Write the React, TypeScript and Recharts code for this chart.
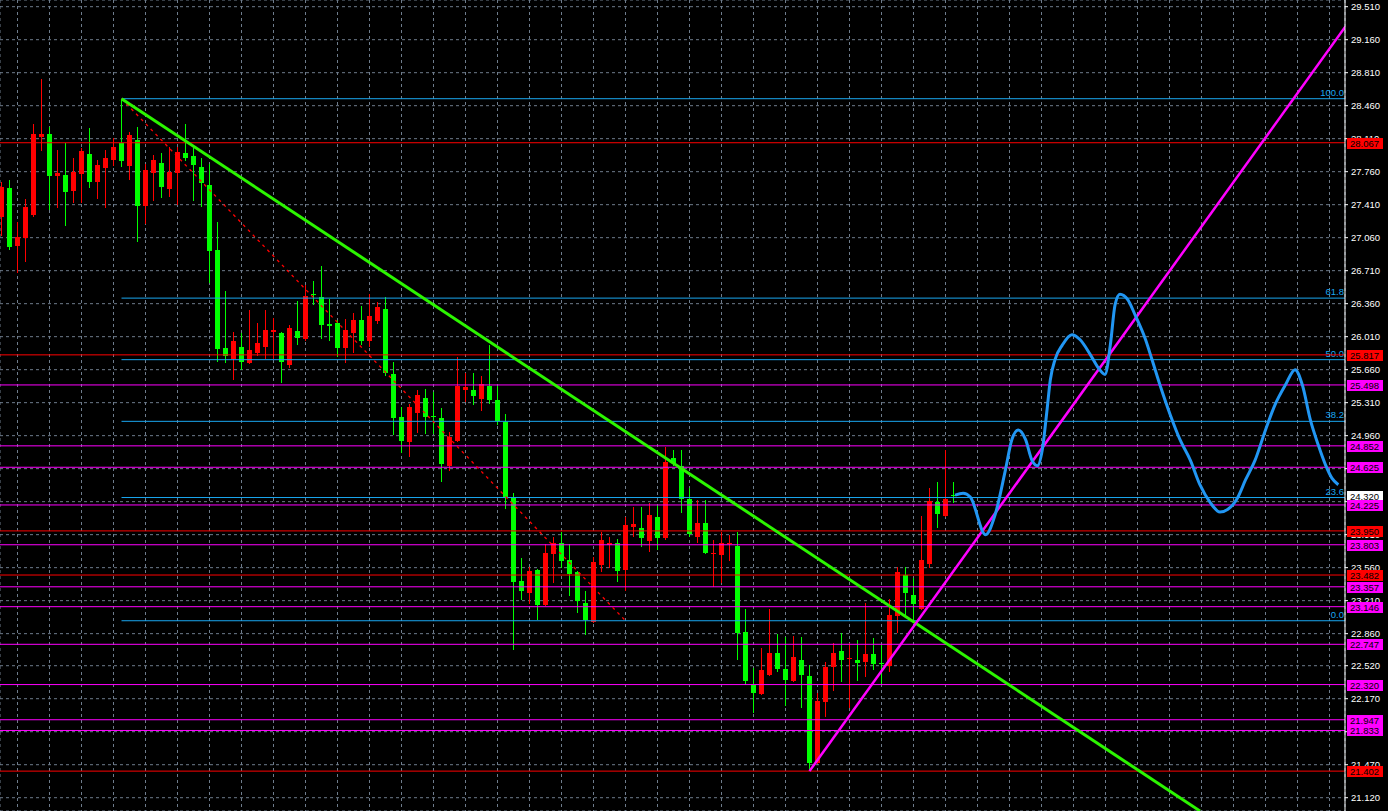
import { Bar, CartesianGrid, ComposedChart, Line, ReferenceLine, XAxis, YAxis } from 'recharts';

// candle index 0..119, prices
const OPEN = [
  27.28, 27.59, 26.97, 27.06, 27.3, 28.13, 28.16, 27.71, 27.73, 27.55,
  27.74, 27.95, 27.65, 27.8, 27.88, 28.06, 27.82, 28.1, 27.4, 27.75,
  27.85, 27.58, 27.75, 27.96, 27.93, 27.81, 27.62, 26.93, 25.89, 25.77,
  25.9, 25.73, 25.84, 25.9, 26.06, 26.05, 25.71, 26.07, 25.99, 26.46,
  26.43, 26.14, 26.15, 25.89, 26.05, 26.19, 25.96, 26.18, 26.3, 25.61,
  25.16, 24.89, 25.2, 25.36, 25.17, 25.15, 24.64, 24.9, 25.44, 25.44,
  25.35, 25.49, 25.34, 25.11, 24.31, 23.42, 23.29, 23.53, 23.16, 23.7,
  23.82, 23.64, 23.51, 23.19, 22.98, 23.59, 23.8, 23.82, 23.53, 23.99,
  23.98, 23.84, 24.1, 23.87, 24.72, 24.64, 24.29, 23.89, 24.03, 23.71,
  23.69, 23.81, 23.79, 22.88, 22.32, 22.22, 22.42, 22.66, 22.48, 22.36,
  22.58, 22.41, 21.49, 22.13, 22.51, 22.68, 22.59, 22.58, 22.56, 22.64,
  22.55, 22.52, 23.05, 23.48, 23.27, 23.12, 23.6, 24.26, 24.11, 24.33,
];
const HIGH = [
  27.65, 27.67, 27.23, 27.47, 28.27, 28.74, 28.23, 27.99, 28.06, 27.9,
  28.01, 28.22, 27.88, 27.99, 28.12, 28.534, 28.18, 28.23, 27.84, 27.94,
  27.96, 28.02, 28.02, 28.27, 28.01, 27.91, 27.84, 27.23, 26.49, 26.06,
  26.05, 26.29, 26.16, 26.29, 26.21, 26.06, 26.13, 26.39, 26.56, 26.6,
  26.76, 26.41, 26.19, 26.2, 26.26, 26.34, 26.46, 26.38, 26.43, 25.74,
  25.26, 25.3, 25.44, 25.45, 25.42, 25.25, 25.0, 25.79, 25.63, 25.62,
  25.59, 25.92, 25.49, 25.19, 24.35, 23.66, 23.57, 23.55, 23.81, 23.89,
  23.94, 23.81, 23.52, 23.31, 23.67, 23.94, 23.88, 23.86, 24.1, 24.2,
  24.2, 24.25, 24.22, 24.84, 24.81, 24.81, 24.41, 24.28, 24.28, 23.85,
  23.94, 23.91, 23.94, 23.12, 22.5, 22.71, 23.12, 22.86, 22.82, 22.84,
  22.82, 22.53, 22.23, 22.56, 22.76, 22.87, 22.76, 22.79, 23.18, 22.81,
  22.74, 23.23, 23.57, 23.57, 23.45, 24.11, 24.41, 24.47, 24.81, 24.47,
];
const LOW = [
  27.08, 26.93, 26.69, 26.8, 27.28, 27.98, 27.35, 27.38, 27.18, 27.43,
  27.43, 27.59, 27.47, 27.37, 27.82, 27.81, 27.67, 27.01, 27.21, 27.45,
  27.48, 27.49, 27.41, 27.87, 27.45, 27.39, 26.58, 25.74, 25.73, 25.55,
  25.66, 25.72, 25.8, 25.77, 25.77, 25.52, 25.68, 25.92, 25.96, 26.35,
  25.99, 25.96, 25.79, 25.73, 25.84, 25.92, 25.9, 26.14, 25.59, 24.97,
  24.78, 24.73, 24.99, 24.98, 24.98, 24.47, 24.58, 24.89, 25.32, 25.29,
  25.22, 25.3, 25.07, 24.18, 22.69, 23.22, 23.17, 23.0, 23.15, 23.4,
  23.56, 23.26, 23.08, 22.85, 22.97, 23.51, 23.56, 23.41, 23.31, 23.89,
  23.78, 23.73, 23.75, 23.85, 24.64, 24.14, 23.88, 23.82, 23.7, 23.36,
  23.4, 23.63, 22.58, 22.32, 22.02, 22.21, 22.41, 22.45, 22.09, 22.35,
  22.07, 21.402, 21.48, 21.98, 22.25, 22.35, 22.07, 22.36, 22.4, 22.47,
  22.33, 22.45, 22.87, 23.06, 23.01, 23.11, 23.56, 23.98, 24.1, 24.25,
];
const CLOSE = [
  27.6, 26.96, 27.07, 27.39, 28.16, 28.16, 27.71, 27.75, 27.54, 27.76,
  27.98, 27.65, 27.83, 27.91, 28.02, 27.87, 28.15, 27.4, 27.78, 27.88,
  27.6, 27.76, 27.97, 27.9, 27.83, 27.64, 26.92, 25.88, 25.8, 25.96,
  25.74, 25.87, 25.94, 26.08, 26.08, 25.74, 26.1, 26.0, 26.44, 26.45,
  26.13, 26.12, 25.89, 26.08, 26.19, 25.96, 26.23, 26.33, 25.63, 25.15,
  24.9, 25.26, 25.39, 25.16, 25.16, 24.66, 24.95, 25.49, 25.48, 25.38,
  25.51, 25.34, 25.12, 24.31, 23.41, 23.31, 23.52, 23.16, 23.72, 23.82,
  23.63, 23.49, 23.21, 23.0, 23.62, 23.85, 23.82, 23.52, 24.01, 24.02,
  23.87, 24.12, 23.87, 24.68, 24.67, 24.29, 23.92, 24.03, 23.72, 23.72,
  23.82, 23.82, 22.87, 22.36, 22.23, 22.47, 22.66, 22.48, 22.37, 22.61,
  22.42, 21.49, 22.15, 22.51, 22.66, 22.58, 22.6, 22.55, 22.64, 22.54,
  22.54, 23.06, 23.51, 23.29, 23.17, 23.64, 24.27, 24.13, 24.29, 24.32,
];

const PRICE_TICKS = [
  29.51, 29.16, 28.81, 28.46, 28.11, 27.76, 27.41, 27.06, 26.71, 26.36, 26.01, 25.66, 25.31,
  24.96, 24.61, 24.26, 23.91, 23.56, 23.21, 22.86, 22.52, 22.17, 21.82, 21.47, 21.12,
];
const TIME_GRID = [
  2, 6, 10, 14, 18, 22, 26, 30, 34, 38, 42, 46, 50, 54, 58, 62, 66, 70, 74, 78, 82,
  86, 90, 94, 98, 102, 106, 110, 114, 118, 122, 126, 130, 134, 138, 142, 146, 150, 154, 158, 162, 166,
];

const RED_LEVELS = [28.067, 25.817, 23.95, 23.482, 21.402];
const MAGENTA_LEVELS = [25.498, 24.852, 24.625, 24.225, 23.803, 23.357, 23.146, 22.747, 22.32, 21.947, 21.833];
const LAST_PRICE = 24.32;

const FIB_NAMES = ['100.0', '61.8', '50.0', '38.2', '23.6', '0.0'];
const FIB_PRICES = [28.534, 26.419, 25.766, 25.112, 24.304, 22.997];

// drawn objects: [index, price] anchors
const FIB_TREND = [{ x: 15, y: 28.534 }, { x: 78, y: 22.997 }];
const GREEN_TREND = [{ x: 15, y: 28.534 }, { x: 149.8, y: 20.98 }];
const MAGENTA_TREND = [{ x: 101, y: 21.402 }, { x: 168, y: 29.3 }];

const CURVE_IDX = [
  119.2, 120.2, 121.1, 123.0, 124.2, 125.5, 126.3, 127.1, 128.0, 128.8, 129.5, 130.1, 130.7,
  131.1, 131.7, 132.6, 133.8, 134.8, 136.1, 137.1, 137.95, 138.6, 139.2, 139.8, 140.8, 141.7,
  143.0, 143.8, 144.8, 146.1, 147.3, 148.6, 149.8, 151.1, 152.3, 153.3, 154.5, 155.5, 156.7,
  158.0, 159.2, 160.5, 161.7, 162.6, 163.6, 164.6, 165.5, 166.3, 167.1,
];
const CURVE_PRICE = [
  24.33, 24.35, 24.31, 23.91, 24.12, 24.6, 24.92, 25.02, 24.92, 24.7, 24.64, 24.81, 25.24,
  25.55, 25.77, 25.92, 26.03, 25.98, 25.82, 25.68, 25.61, 25.92, 26.35, 26.46, 26.4, 26.24,
  25.98, 25.77, 25.5, 25.18, 24.92, 24.7, 24.44, 24.25, 24.15, 24.18, 24.3, 24.49, 24.7,
  25.02, 25.29, 25.5, 25.66, 25.5, 25.13, 24.86, 24.65, 24.51, 24.44,
];

const BULL = '#ff0000';
const BEAR = '#00ff00';
const MAGENTA = '#ff00ff';
const FIB = '#1aa7f0';
const FONT = 'Liberation Sans, Arial, sans-serif';
const Y_DOMAIN = [20.979, 29.581];

const candles = OPEN.map((o, i) => ({ i, o, h: HIGH[i], l: LOW[i], c: CLOSE[i] }));
const curve = CURVE_IDX.map((i, k) => ({ i, p: CURVE_PRICE[k] }));
const tagValues = [...RED_LEVELS, ...MAGENTA_LEVELS, LAST_PRICE].sort((a, b) => b - a);

function tagColour(v: number) {
  if (v === LAST_PRICE) return '#ffffff';
  return RED_LEVELS.includes(v) ? BULL : MAGENTA;
}

function Candle(props: any) {
  const { x, y, width, height, payload } = props;
  if (x == null || y == null) return null;
  const { o, h, l, c } = payload;
  const color = c > o ? BULL : BEAR;
  const span = h - l || 1;
  const at = (v: number) => y + ((h - v) / span) * height;
  const cx = Math.floor(x + width / 2) + 0.5;
  const top = at(Math.max(o, c));
  const bottom = at(Math.min(o, c));
  return (
    <g shapeRendering="crispEdges">
      <line x1={cx} x2={cx} y1={y} y2={y + height} stroke={color} strokeWidth={1} />
      <rect x={cx - 2.5} y={top} width={5} height={Math.max(1, bottom - top)} fill={color} />
    </g>
  );
}

// boxed price tags, drawn by a mirrored axis so they sit over the price labels
function PriceTag(props: any) {
  const { x, y, payload } = props;
  const v = payload.value;
  const cy = Math.round(y);
  const left = x + 2;
  return (
    <g>
      <rect x={left} y={cy - 5} width={36} height={11} fill={tagColour(v)} />
      <text x={left + 3} y={cy + 4} fontSize={9.5} fontFamily={FONT} fill="#000">
        {v.toFixed(3)}
      </text>
    </g>
  );
}

function FibTag(props: any) {
  const { viewBox, name } = props;
  if (!viewBox) return null;
  return (
    <text
      x={viewBox.x + viewBox.width - 1}
      y={viewBox.y - 3}
      textAnchor="end"
      fontSize={9.5}
      fontFamily={FONT}
      fill={FIB}
    >
      {name}
    </text>
  );
}

export default function App() {
  return (
    <div style={{ position: 'absolute', left: 0, top: 0, width: 1388, height: 811, background: '#000' }}>
      <ComposedChart width={1388} height={811} data={candles} margin={{ top: 0, right: 0, bottom: 0, left: 0 }}>
        <CartesianGrid stroke="#6e7c8c" strokeDasharray="3 3" />
        <XAxis
          type="number"
          dataKey="i"
          domain={[-0.1875, 167.9375]}
          ticks={TIME_GRID}
          allowDataOverflow
          hide
        />
        <YAxis
          orientation="right"
          type="number"
          domain={Y_DOMAIN}
          ticks={PRICE_TICKS}
          interval={0}
          allowDataOverflow
          width={43}
          axisLine={{ stroke: '#ffffff' }}
          tickLine={{ stroke: '#ffffff' }}
          tickSize={3}
          tickMargin={3}
          tick={{ fill: '#ffffff', fontSize: 9.5, fontFamily: FONT }}
          tickFormatter={(v: number) => v.toFixed(3)}
        />
        <YAxis
          yAxisId="tags"
          orientation="right"
          mirror
          type="number"
          domain={Y_DOMAIN}
          ticks={tagValues}
          interval={0}
          allowDataOverflow
          axisLine={false}
          tickLine={false}
          tickSize={0}
          tickMargin={0}
          tick={<PriceTag />}
        />
        <Bar
          dataKey={(d: any) => [d.l, d.h]}
          barSize={5}
          shape={(p: any) => <Candle {...p} />}
          isAnimationActive={false}
        />
        {FIB_PRICES.map((v, k) => (
          <ReferenceLine
            key={'f' + v}
            segment={[{ x: 15, y: v }, { x: 167.9375, y: v }]}
            stroke={FIB}
            strokeWidth={1}
            label={<FibTag name={FIB_NAMES[k]} />}
          />
        ))}
        {RED_LEVELS.map((v) => (
          <ReferenceLine key={'r' + v} y={v} stroke={BULL} strokeWidth={1} />
        ))}
        {MAGENTA_LEVELS.map((v) => (
          <ReferenceLine key={'m' + v} y={v} stroke={MAGENTA} strokeWidth={1} />
        ))}
        <ReferenceLine segment={FIB_TREND} stroke={BULL} strokeWidth={1.3} strokeDasharray="3 4" ifOverflow="hidden" />
        <ReferenceLine segment={GREEN_TREND} stroke="#2cf500" strokeWidth={3} ifOverflow="hidden" />
        <ReferenceLine segment={MAGENTA_TREND} stroke={MAGENTA} strokeWidth={2.5} ifOverflow="hidden" />
        <Line
          data={curve}
          dataKey="p"
          type="monotone"
          stroke="#2196f3"
          strokeWidth={3}
          dot={false}
          activeDot={false}
          isAnimationActive={false}
        />
      </ComposedChart>
    </div>
  );
}
